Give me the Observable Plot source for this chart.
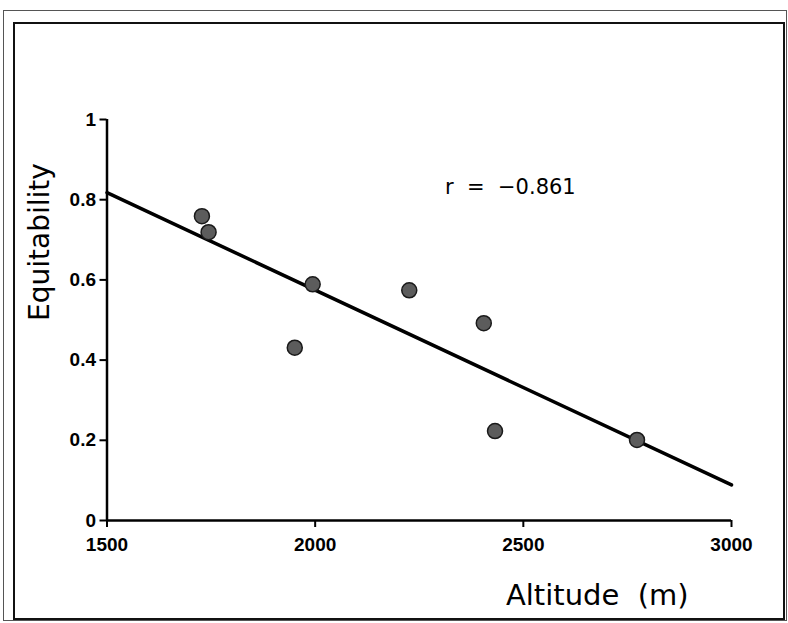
<!DOCTYPE html>
<html>
<head>
<meta charset="utf-8">
<script src="https://cdn.jsdelivr.net/npm/d3@7"></script>
<script src="https://cdn.jsdelivr.net/npm/@observablehq/plot@0.6"></script>
<style>
  html, body { margin: 0; padding: 0; background: #fff; }
  #wrap { position: relative; width: 788px; height: 623px; overflow: hidden; }
  #chart svg { display: block; }
  .frame { position: absolute; box-sizing: border-box; pointer-events: none; }
</style>
</head>
<body>
<div id="wrap">
  <div id="chart"></div>
  <div class="frame" style="left:3px;top:10px;width:784px;height:611px;border:1px solid #555;"></div>
  <div class="frame" style="left:13px;top:22px;width:772px;height:598px;border:2px solid #111;"></div>
</div>
<script>
// Data
const altitude     = [1728, 1744, 1951, 1994, 2226, 2405, 2432, 2773];
const equitability = [0.759, 0.719, 0.431, 0.589, 0.574, 0.492, 0.223, 0.201];

const xTicks = [1500, 2000, 2500, 3000];
const xTickLabels = ["1500", "2000", "2500", "3000"];
const yTicks = [0, 0.2, 0.4, 0.6, 0.8, 1];
const yTickLabels = ["0", "0.2", "0.4", "0.6", "0.8", "1"];

const xDomain = [1500, 3000];
const yDomain = [0, 1];

const xTitle = "Altitude  (m)";
const yTitle = "Equitability";
const annotationText = "r  =  \u22120.861";
const annotationPos = [{x: 2312, y: 0.815}];

// build table
const points = altitude.map((a, i) => ({altitude: a, equitability: equitability[i]}));

// least-squares fit, drawn across the full x domain
const mx = d3.mean(altitude), my = d3.mean(equitability);
const sxy = d3.sum(altitude, (a, i) => (a - mx) * (equitability[i] - my));
const sxx = d3.sum(altitude, a => (a - mx) ** 2);
const slope = sxy / sxx;
const fit = xDomain.map(x => ({altitude: x, equitability: my + slope * (x - mx)}));

const plot = Plot.plot({
  width: 788,
  height: 623,
  marginLeft: 106.5,
  marginRight: 57,
  marginTop: 119,
  marginBottom: 103,
  x: {domain: xDomain},
  y: {domain: yDomain},
  style: {fontFamily: "'Liberation Sans', Arial, sans-serif", fontSize: "19px", fontWeight: "bold", background: "transparent", color: "#000", overflow: "visible"},
  marks: [
    Plot.axisX({
      ticks: xTicks,
      tickFormat: d => xTickLabels[xTicks.indexOf(d)],
      tickSize: 7, tickPadding: 10, strokeWidth: 2,
      label: null
    }),
    Plot.axisY({
      ticks: yTicks,
      tickFormat: d => yTickLabels[yTicks.indexOf(d)],
      tickSize: 7, tickPadding: 4, strokeWidth: 2,
      label: null
    }),
    Plot.ruleY([yDomain[0]], {stroke: "#000", strokeWidth: 2.5}),
    Plot.ruleX([xDomain[0]], {stroke: "#000", strokeWidth: 2.5}),
    Plot.line(fit, {x: "altitude", y: "equitability", stroke: "#000", strokeWidth: 3.5}),
    Plot.dot(points, {x: "altitude", y: "equitability", r: 7.5, fill: "#5c5c5c", stroke: "#1a1a1a", strokeWidth: 1.5}),
    Plot.text(annotationPos, {
      x: "x", y: "y", text: () => annotationText,
      textAnchor: "start", lineAnchor: "bottom",
      fontSize: 21, fontWeight: "normal", fontFamily: "'DejaVu Sans', sans-serif", fill: "#000"
    }),
    Plot.text([yTitle], {
      frameAnchor: "left", rotate: -90, dx: -58, dy: -78,
      textAnchor: "middle", lineAnchor: "bottom",
      fontSize: 28, fontWeight: "normal", fontFamily: "'DejaVu Sans', sans-serif", fill: "#000"
    }),
    Plot.text([xTitle], {
      frameAnchor: "bottom", dx: 178, dy: 84,
      textAnchor: "middle", lineAnchor: "bottom",
      fontSize: 29, fontWeight: "normal", fontFamily: "'DejaVu Sans', sans-serif", fill: "#000"
    })
  ]
});
plot.querySelectorAll("text").forEach(t => t.style.whiteSpace = "pre");
document.getElementById("chart").appendChild(plot);
</script>
</body>
</html>
